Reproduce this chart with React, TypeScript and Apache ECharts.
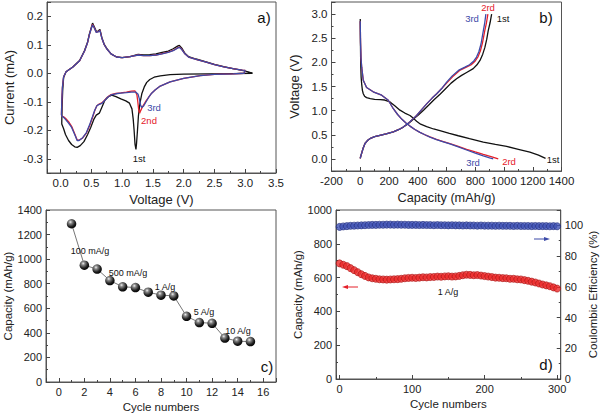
import { useEffect, useRef } from "react";
import * as echarts from "echarts";

// ---------- Panel a) cyclic voltammetry: [voltage (V), current (mA)]
const cvCycle1: number[][] = [
  [3.12, 0.0], [2.8, -0.001], [2.4, -0.002], [2.0, -0.003], [1.78, -0.005], [1.62, -0.009], [1.52, -0.014],
  [1.45, -0.022], [1.4, -0.032], [1.36, -0.048], [1.32, -0.072], [1.29, -0.105], [1.265, -0.15], [1.25, -0.2],
  [1.235, -0.245], [1.225, -0.267], [1.21, -0.25], [1.195, -0.2], [1.18, -0.16], [1.16, -0.125], [1.12, -0.105],
  [1.06, -0.097], [0.98, -0.09], [0.9, -0.082], [0.83, -0.077], [0.78, -0.082], [0.72, -0.095], [0.67, -0.12],
  [0.63, -0.14], [0.58, -0.147], [0.54, -0.162], [0.49, -0.19], [0.44, -0.215], [0.38, -0.24], [0.32, -0.254],
  [0.27, -0.26], [0.23, -0.258], [0.18, -0.25], [0.13, -0.236], [0.08, -0.215], [0.05, -0.195], [0.02, -0.178],
  [0.02, -0.17], [0.025, -0.12], [0.035, -0.06], [0.05, -0.015], [0.09, 0.005], [0.2, 0.022], [0.31, 0.045],
  [0.39, 0.08], [0.44, 0.11], [0.47, 0.139], [0.52, 0.176], [0.55, 0.162], [0.58, 0.147], [0.61, 0.148],
  [0.64, 0.154], [0.67, 0.126], [0.71, 0.101], [0.75, 0.087], [0.82, 0.068], [0.91, 0.057], [1.0, 0.055],
  [1.13, 0.058], [1.26, 0.066], [1.35, 0.064], [1.45, 0.065], [1.55, 0.068], [1.65, 0.073], [1.75, 0.078],
  [1.83, 0.086], [1.9, 0.095], [1.93, 0.098], [1.97, 0.088], [2.02, 0.07], [2.08, 0.058], [2.2, 0.05],
  [2.35, 0.041], [2.5, 0.031], [2.65, 0.023], [2.8, 0.016], [2.95, 0.01], [3.05, 0.005], [3.12, 0.0],
];
const cvCycle2: number[][] = [
  [3.0, 0.01], [2.98, 0.0], [2.8, -0.002], [2.5, -0.004], [2.27, -0.008], [2.0, -0.018], [1.78, -0.03],
  [1.62, -0.045], [1.54, -0.058], [1.48, -0.07], [1.43, -0.085], [1.38, -0.1], [1.33, -0.118], [1.3, -0.132],
  [1.285, -0.14], [1.27, -0.13], [1.255, -0.1], [1.24, -0.075], [1.21, -0.062], [1.15, -0.063], [1.07, -0.066],
  [0.98, -0.069], [0.9, -0.071], [0.82, -0.075], [0.76, -0.084], [0.72, -0.094], [0.67, -0.104], [0.62, -0.109],
  [0.59, -0.114], [0.555, -0.132], [0.52, -0.155], [0.47, -0.185], [0.42, -0.21], [0.36, -0.227], [0.3, -0.235],
  [0.27, -0.234], [0.23, -0.212], [0.18, -0.186], [0.13, -0.17], [0.08, -0.158], [0.05, -0.153], [0.02, -0.15],
  [0.015, -0.145], [0.02, -0.1], [0.03, -0.05], [0.05, -0.012], [0.09, 0.005], [0.2, 0.022], [0.31, 0.044],
  [0.39, 0.078], [0.44, 0.108], [0.47, 0.137], [0.52, 0.172], [0.55, 0.159], [0.58, 0.144], [0.61, 0.146],
  [0.64, 0.151], [0.67, 0.124], [0.71, 0.1], [0.75, 0.086], [0.82, 0.068], [0.91, 0.057], [1.0, 0.055],
  [1.13, 0.058], [1.26, 0.064], [1.35, 0.062], [1.45, 0.062], [1.55, 0.064], [1.65, 0.069], [1.75, 0.074],
  [1.83, 0.08], [1.9, 0.089], [1.93, 0.092], [1.97, 0.084], [2.02, 0.068], [2.08, 0.057], [2.2, 0.049],
  [2.35, 0.04], [2.5, 0.03], [2.65, 0.022], [2.8, 0.016], [2.95, 0.011], [3.0, 0.01],
];
const cvCycle3: number[][] = [
  [3.0, 0.01], [2.98, 0.0], [2.8, -0.002], [2.5, -0.004], [2.27, -0.008], [2.0, -0.018], [1.78, -0.03],
  [1.62, -0.045], [1.54, -0.058], [1.48, -0.07], [1.43, -0.085], [1.39, -0.1], [1.35, -0.115], [1.32, -0.12],
  [1.3, -0.112], [1.28, -0.09], [1.26, -0.074], [1.22, -0.066], [1.15, -0.066], [1.07, -0.068], [0.98, -0.07],
  [0.9, -0.072], [0.82, -0.076], [0.76, -0.085], [0.72, -0.095], [0.67, -0.106], [0.62, -0.11], [0.59, -0.114],
  [0.555, -0.13], [0.52, -0.152], [0.47, -0.182], [0.42, -0.208], [0.36, -0.226], [0.3, -0.236], [0.27, -0.236],
  [0.23, -0.215], [0.18, -0.19], [0.13, -0.175], [0.08, -0.162], [0.05, -0.155], [0.02, -0.15],
  [0.015, -0.145], [0.02, -0.1], [0.03, -0.05], [0.05, -0.012], [0.09, 0.005], [0.2, 0.022], [0.31, 0.044],
  [0.39, 0.078], [0.44, 0.108], [0.47, 0.137], [0.52, 0.17], [0.55, 0.158], [0.58, 0.143], [0.61, 0.145],
  [0.64, 0.15], [0.67, 0.124], [0.71, 0.1], [0.75, 0.086], [0.82, 0.068], [0.91, 0.057], [1.0, 0.055],
  [1.13, 0.058], [1.26, 0.064], [1.35, 0.062], [1.45, 0.062], [1.55, 0.064], [1.65, 0.068], [1.75, 0.073],
  [1.83, 0.079], [1.9, 0.088], [1.93, 0.091], [1.97, 0.083], [2.02, 0.068], [2.08, 0.057], [2.2, 0.049],
  [2.35, 0.04], [2.5, 0.03], [2.65, 0.022], [2.8, 0.016], [2.95, 0.011], [3.0, 0.01],
];

// ---------- Panel b) charge / discharge profiles: [capacity (mAh/g), voltage (V)]
const gcd1Discharge: number[][] = [
  [0, 2.9], [1, 2.5], [3, 2.0], [6, 1.7], [10, 1.55], [15, 1.42], [21, 1.35], [30, 1.3], [44, 1.27], [70, 1.25],
  [100, 1.235], [140, 1.23], [170, 1.22], [207, 1.18], [240, 1.1], [276, 1.01], [310, 0.95], [346, 0.9],
  [370, 0.84], [392, 0.78], [420, 0.72], [462, 0.67], [510, 0.62], [554, 0.585], [620, 0.53], [682, 0.48],
  [760, 0.42], [856, 0.35], [940, 0.3], [1018, 0.26], [1100, 0.2], [1180, 0.14], [1240, 0.08], [1289, 0.01],
];
const gcd1Charge: number[][] = [
  [0, 0.01], [3, 0.05], [10, 0.12], [20, 0.22], [33, 0.32], [50, 0.38], [67, 0.42], [100, 0.46], [137, 0.49],
  [180, 0.52], [230, 0.56], [270, 0.61], [300, 0.66], [328, 0.72], [350, 0.77], [376, 0.84], [400, 0.9],
  [440, 1.01], [475, 1.11], [515, 1.23], [555, 1.34], [595, 1.46], [632, 1.57], [670, 1.66], [705, 1.73],
  [740, 1.79], [786, 1.87], [812, 1.95], [833, 2.04], [852, 2.17], [867, 2.31], [880, 2.48], [890, 2.65],
  [903, 2.82], [914, 3.0],
];
const gcd2Discharge: number[][] = [
  [0, 2.85], [2, 2.4], [5, 2.1], [10, 1.9], [21, 1.63], [44, 1.48], [90, 1.39], [149, 1.32], [195, 1.215],
  [230, 1.04], [260, 0.92], [290, 0.82], [320, 0.74], [346, 0.68], [380, 0.61], [415, 0.55], [450, 0.5],
  [485, 0.455], [530, 0.405], [578, 0.36], [624, 0.315], [682, 0.26], [740, 0.2], [800, 0.145], [856, 0.095],
  [910, 0.048], [960, 0.0],
];
const gcd2Charge: number[][] = [
  [0, 0.01], [3, 0.05], [10, 0.12], [20, 0.22], [33, 0.32], [50, 0.38], [67, 0.42], [100, 0.46], [137, 0.49],
  [180, 0.52], [230, 0.56], [270, 0.61], [299, 0.66], [325, 0.72], [346, 0.77], [370, 0.84], [392, 0.9],
  [430, 1.03], [462, 1.14], [500, 1.26], [532, 1.35], [570, 1.47], [604, 1.58], [642, 1.7], [695, 1.84],
  [738, 1.9], [772, 1.95], [800, 2.03], [820, 2.12], [836, 2.24], [850, 2.4], [866, 2.65], [878, 2.82],
  [888, 3.0],
];
const gcd3Discharge: number[][] = [
  [0, 2.85], [2, 2.4], [5, 2.1], [10, 1.9], [21, 1.63], [44, 1.48], [90, 1.39], [149, 1.32], [195, 1.215],
  [230, 1.04], [260, 0.92], [290, 0.82], [320, 0.74], [346, 0.68], [380, 0.61], [415, 0.55], [450, 0.5],
  [485, 0.45], [530, 0.4], [578, 0.355], [624, 0.31], [682, 0.25], [740, 0.185], [800, 0.12], [856, 0.062],
  [900, 0.02], [925, 0.0],
];
const gcd3Charge: number[][] = [
  [0, 0.01], [3, 0.05], [10, 0.12], [20, 0.22], [33, 0.32], [50, 0.38], [67, 0.42], [100, 0.46], [137, 0.49],
  [180, 0.52], [230, 0.56], [270, 0.61], [299, 0.66], [325, 0.72], [346, 0.77], [370, 0.84], [392, 0.9],
  [430, 1.03], [462, 1.14], [500, 1.26], [532, 1.35], [570, 1.47], [601, 1.59], [640, 1.72], [689, 1.845],
  [728, 1.9], [760, 1.95], [790, 2.03], [809, 2.11], [825, 2.22], [840, 2.38], [856, 2.65], [866, 2.82],
  [874, 3.0],
];

// ---------- Panel c) rate capability
const rateCycles = [1, 2, 3, 4, 5, 6, 7, 8, 9, 10, 11, 12, 13, 14, 15];
const rateCapacity = [1288, 951, 919, 826, 775, 769, 731, 707, 701, 535, 484, 478, 358, 332, 329];
const rateLabels = ["100 mA/g", "500 mA/g", "1 A/g", "5 A/g", "10 A/g"];

// ---------- Panel d) long cycling at 1 A/g
const longCycles = [
  0, 5, 10, 15, 20, 25, 30, 35, 40, 45, 50, 55, 60, 65, 70, 75, 80, 85, 90, 95, 100, 105, 110, 115, 120, 125,
  130, 135, 140, 145, 150, 155, 160, 165, 170, 175, 180, 185, 190, 195, 200, 205, 210, 215, 220, 225, 230, 235,
  240, 245, 250, 255, 260, 265, 270, 275, 280, 285, 290, 295, 300,
];
const longCapacity = [
  684, 676, 668, 656, 644, 632, 620, 610, 601, 596, 593, 590, 589, 588, 589, 590, 591, 593, 596, 598, 599, 598,
  600, 602, 601, 603, 604, 606, 605, 607, 608, 606, 607, 610, 614, 617, 616, 614, 615, 612, 609, 606, 603, 600,
  599, 597, 596, 593, 593, 590, 589, 585, 581, 576, 571, 565, 559, 554, 549, 542, 535,
];
const longEfficiency = [
  99.0, 99.3, 99.5, 99.7, 99.8, 99.9, 100.0, 100.1, 100.2, 100.3, 100.3, 100.4, 100.4, 100.5, 100.5, 100.4,
  100.5, 100.4, 100.4, 100.3, 100.3, 100.3, 100.2, 100.3, 100.2, 100.2, 100.1, 100.2, 100.1, 100.1, 100.0,
  100.1, 100.0, 100.0, 99.9, 100.0, 99.9, 99.9, 99.8, 99.9, 99.8, 99.8, 99.8, 99.7, 99.8, 99.7, 99.7, 99.7,
  99.6, 99.7, 99.6, 99.6, 99.6, 99.5, 99.6, 99.5, 99.5, 99.5, 99.4, 99.5, 99.4,
];

const FONT = "'Liberation Sans', Arial, Helvetica, sans-serif";
const BLACK = "#111111";
const RED = "#e5202a";
const BLUE = "#3c4aa8";

const multipleFmt = (step: number, digits: number) => (v: number) => {
  const k = v / step;
  if (Math.abs(k - Math.round(k)) > 1e-6) return "";
  const r = Math.round(k) * step;
  if (Math.abs(r) < 1e-9) return (0).toFixed(digits);
  return r.toFixed(digits);
};

const axisCommon = (extra: any, fmt: (v: number) => string, labelSize: number, nameSize: number) => ({
  type: "value",
  splitLine: { show: false },
  axisLine: { show: true, onZero: false, lineStyle: { color: "#555", width: 1 } },
  axisTick: { show: true, inside: true, length: 4, lineStyle: { color: "#444" } },
  minorTick: { show: true, splitNumber: 2, length: 2, lineStyle: { color: "#444" } },
  axisLabel: { color: "#222", fontSize: labelSize, fontFamily: FONT, margin: 4, formatter: fmt },
  nameLocation: "middle",
  nameTextStyle: { color: "#222", fontSize: nameSize, fontFamily: FONT },
  ...extra,
});

const txt = (x: number, y: number, text: string, color: string, size: number, align = "center") => ({
  type: "text",
  x,
  y,
  z: 50,
  silent: true,
  style: {
    text,
    fill: color,
    font: `${size}px ${FONT}`,
    align,
    verticalAlign: "middle",
    textAlign: align,
    textVerticalAlign: "middle",
  },
});

export default function App() {
  const ref = useRef<HTMLDivElement>(null);
  useEffect(() => {
    if (!ref.current) return;
    const chart = echarts.init(ref.current, undefined, { renderer: "svg" });
    const ball = {
      type: "radial",
      x: 0.38,
      y: 0.32,
      r: 0.7,
      colorStops: [
        { offset: 0, color: "#f2f2f2" },
        { offset: 0.25, color: "#8a8a8a" },
        { offset: 0.7, color: "#202020" },
        { offset: 1, color: "#000000" },
      ],
    };
    const lineS = (data: number[][], color: string, xi: number, width = 1.3) => ({
      type: "line",
      xAxisIndex: xi,
      yAxisIndex: xi,
      data,
      showSymbol: false,
      symbol: "none",
      lineStyle: { color, width },
      silent: true,
    });
    const option: any = {
      animation: false,
      backgroundColor: "#ffffff",
      grid: [
        { left: 47, top: 2, width: 229, height: 171, show: true, borderColor: "#555", borderWidth: 1 },
        { left: 331.5, top: 2, width: 230, height: 169, show: true, borderColor: "#555", borderWidth: 1 },
        { left: 46, top: 210, width: 230, height: 172, show: true, borderColor: "#555", borderWidth: 1 },
        { left: 336, top: 210, width: 225, height: 169, show: true, borderColor: "#555", borderWidth: 1 },
      ],
      xAxis: [
        axisCommon({ gridIndex: 0, min: -0.22, max: 3.5, splitNumber: 8, name: "Voltage (V)", nameGap: 20 },
          multipleFmt(0.5, 1), 11.5, 13),
        axisCommon({ gridIndex: 1, min: -200, max: 1400, interval: 200, name: "Capacity (mAh/g)", nameGap: 20 },
          multipleFmt(200, 0), 11.5, 12.7),
        axisCommon({ gridIndex: 2, min: -1, max: 17, splitNumber: 9, name: "Cycle numbers", nameGap: 19 },
          multipleFmt(2, 0), 11, 11.5),
        axisCommon({ gridIndex: 3, min: -5, max: 305, splitNumber: 3, name: "Cycle numbers", nameGap: 19 },
          multipleFmt(100, 0), 11, 11.5),
      ],
      yAxis: [
        axisCommon({ gridIndex: 0, min: -0.35, max: 0.25, splitNumber: 6, name: "Current (mA)", nameGap: 31 },
          multipleFmt(0.1, 1), 11.5, 13),
        axisCommon({ gridIndex: 1, min: -0.25, max: 3.25, splitNumber: 7, name: "Voltage (V)", nameGap: 31 },
          multipleFmt(0.5, 1), 11.5, 13),
        axisCommon({ gridIndex: 2, min: 0, max: 1400, interval: 200, name: "Capacity (mAh/g)", nameGap: 30 },
          multipleFmt(200, 0), 11, 11.5),
        axisCommon({ gridIndex: 3, min: 0, max: 1000, interval: 200, name: "Capacity (mAh/g)", nameGap: 30 },
          multipleFmt(200, 0), 11, 11.5),
        axisCommon({
          gridIndex: 3, position: "right", min: 0, max: 110, interval: 20, name: "Coulombic Efficiency (%)",
          nameGap: 26, nameRotate: 90,
        }, multipleFmt(20, 0), 11, 11.5),
      ],
      series: [
        lineS(cvCycle1, BLACK, 0),
        lineS(cvCycle2, RED, 0),
        lineS(cvCycle3, BLUE, 0),
        lineS(gcd1Discharge, BLACK, 1),
        lineS(gcd1Charge, BLACK, 1),
        lineS(gcd2Discharge, RED, 1),
        lineS(gcd2Charge, RED, 1),
        lineS(gcd3Discharge, BLUE, 1),
        lineS(gcd3Charge, BLUE, 1),
        {
          type: "line",
          xAxisIndex: 2,
          yAxisIndex: 2,
          data: rateCycles.map((c, i) => [c, rateCapacity[i]]),
          symbol: "circle",
          symbolSize: 9.5,
          showSymbol: true,
          lineStyle: { color: "#777", width: 1 },
          itemStyle: { color: ball, borderWidth: 0 },
          silent: true,
        },
        {
          type: "scatter",
          xAxisIndex: 3,
          yAxisIndex: 4,
          data: longCycles.map((c, i) => [c, longEfficiency[i]]),
          symbol: "circle",
          symbolSize: 7,
          itemStyle: { color: "#4052b5", borderColor: "#1f2b7a", borderWidth: 0.8 },
          silent: true,
        },
        {
          type: "scatter",
          xAxisIndex: 3,
          yAxisIndex: 3,
          data: longCycles.map((c, i) => [c, longCapacity[i]]),
          symbol: "circle",
          symbolSize: 7,
          itemStyle: { color: "#ec2a2a", borderColor: "#a81010", borderWidth: 0.8 },
          silent: true,
        },
      ],
      graphic: [
        // panel letters
        txt(264, 17, "a)", "#111", 15),
        txt(546, 17, "b)", "#111", 15),
        txt(267, 366, "c)", "#111", 15),
        txt(546, 364, "d)", "#111", 15),
        // panel a cycle labels
        txt(154, 107, "3rd", BLUE, 9.5),
        txt(149, 120, "2nd", RED, 9.5),
        txt(139, 158, "1st", BLACK, 9.5),
        // panel b cycle labels
        txt(488, 7.5, "2rd", RED, 9.5),
        txt(472, 18, "3rd", BLUE, 9.5),
        txt(503, 18, "1st", BLACK, 9.5),
        txt(473, 162, "3rd", BLUE, 9.5),
        txt(509, 161, "2rd", RED, 9.5),
        txt(553, 159.5, "1st", BLACK, 9.5),
        // panel c current-density labels
        txt(90, 251, rateLabels[0], "#111", 9),
        txt(128, 273, rateLabels[1], "#111", 9),
        txt(165, 287, rateLabels[2], "#111", 9),
        txt(204, 312, rateLabels[3], "#111", 9),
        txt(238, 331, rateLabels[4], "#111", 9),
        // panel d
        txt(448, 292, "1 A/g", "#111", 9),
        { type: "line", z: 50, silent: true, shape: { x1: 358, y1: 287, x2: 346, y2: 287 }, style: { stroke: RED, lineWidth: 1 } },
        { type: "polygon", z: 50, silent: true, shape: { points: [[342, 287], [348, 285], [348, 289]] }, style: { fill: RED } },
        { type: "line", z: 50, silent: true, shape: { x1: 534, y1: 239, x2: 546, y2: 239 }, style: { stroke: BLUE, lineWidth: 1 } },
        { type: "polygon", z: 50, silent: true, shape: { points: [[550, 239], [544, 237], [544, 241]] }, style: { fill: BLUE } },
      ],
    };
    chart.setOption(option);
    return () => chart.dispose();
  }, []);
  return (
    <div
      ref={ref}
      style={{ position: "fixed", left: 0, top: 0, width: 600, height: 417, background: "#fff" }}
    />
  );
}
